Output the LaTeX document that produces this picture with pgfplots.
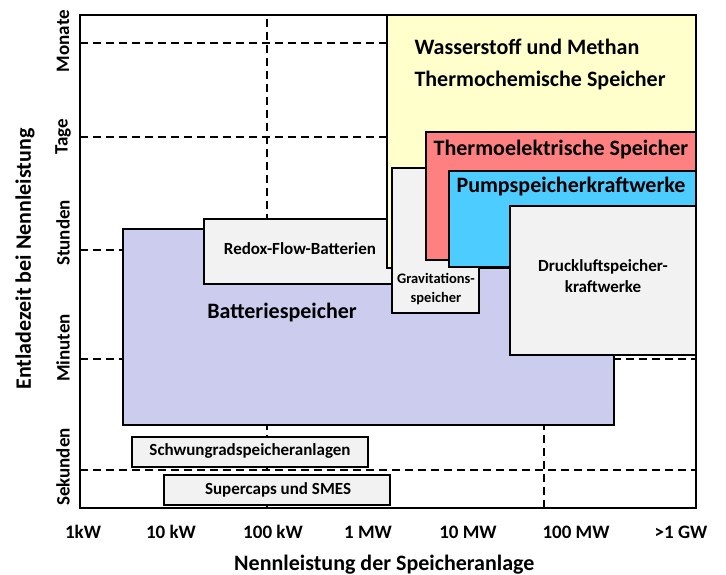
\documentclass[border=0pt]{standalone}
\usepackage{fontspec}
\setmainfont{Carlito}
\usepackage{pgfplots}
\pgfplotsset{compat=1.18}
\definecolor{cyellow}{RGB}{255,255,204}
\definecolor{cpurple}{RGB}{204,204,238}
\definecolor{cgray}{RGB}{242,242,242}
\definecolor{cred}{RGB}{255,128,128}
\definecolor{cblue}{RGB}{77,204,255}
\newcommand\fs[1]{\fontsize{#1pt}{#1pt}\selectfont\bfseries}
\begin{document}
\begin{tikzpicture}
\useasboundingbox (0,0) rectangle (726pt,575pt);
\begin{axis}[
  at={(80pt,67pt)}, anchor=south west,
  scale only axis, width=616pt, height=493pt,
  xmin=80, xmax=696, ymin=67, ymax=560,
  axis line style={line width=1.6pt, black},
  xtick={83,171,273,368,468,576,681},
  xticklabels={1kW,10 kW,100 kW,1 MW,10 MW,100 MW,>1 GW},
  ytick={108,227,342,438,534},
  yticklabels={Sekunden,Minuten,Stunden,Tage,Monate},
  major tick length=0pt,
  xticklabel style={font=\fs{19}, anchor=center, yshift=-24pt},
  yticklabel style={font=\fs{19}, rotate=90, anchor=center, yshift=17pt},
  extra x ticks={267,544}, extra x tick labels={},
  extra y ticks={105,216,325,438,532}, extra y tick labels={},
  extra tick style={grid=major, major grid style={dash pattern=on 8pt off 5pt, line width=1.2pt, black}},
  xlabel={Nennleistung der Speicheranlage},
  ylabel={Entladezeit bei Nennleistung},
  xlabel style={font=\fs{22}, at={(axis description cs:0.494,-0.1156)}, anchor=center},
  ylabel style={font=\fs{22}, at={(axis description cs:-0.0893,0.505)}, anchor=center},
]
% Batteriespeicher
\addplot[draw=black, line width=1.2pt, fill=cpurple] coordinates {(123,150) (614,150) (614,346) (123,346)} -- cycle;
% Redox-Flow
\addplot[draw=black, line width=1.2pt, fill=cgray] coordinates {(204,291) (392,291) (392,356) (204,356)} -- cycle;
% Wasserstoff
\addplot[draw=black, line width=1.2pt, fill=cyellow] coordinates {(387,307) (696,307) (696,560) (387,560)} -- cycle;
% Gravitation
\addplot[draw=black, line width=1.2pt, fill=cgray] coordinates {(392,262) (479,262) (479,407) (392,407)} -- cycle;
% Thermoelektrisch
\addplot[draw=black, line width=1.2pt, fill=cred] coordinates {(426,315) (696,315) (696,443) (426,443)} -- cycle;
% Pumpspeicher
\addplot[draw=black, line width=1.2pt, fill=cblue] coordinates {(449,308) (696,308) (696,404) (449,404)} -- cycle;
% Druckluft
\addplot[draw=black, line width=1.2pt, fill=cgray] coordinates {(510,220) (696,220) (696,369) (510,369)} -- cycle;
% Schwungrad
\addplot[draw=black, line width=1.2pt, fill=cgray] coordinates {(132,108) (368,108) (368,138) (132,138)} -- cycle;
% Supercaps
\addplot[draw=black, line width=1.2pt, fill=cgray] coordinates {(164,70) (390,70) (390,100) (164,100)} -- cycle;

\node[font=\fs{22}, anchor=west] at (axis cs:411,528) {Wasserstoff und Methan};
\node[font=\fs{22}, anchor=west] at (axis cs:411,494) {Thermochemische Speicher};
\node[font=\fs{22}] at (axis cs:561,425) {Thermoelektrische Speicher};
\node[font=\fs{22}] at (axis cs:571,388) {Pumpspeicherkraftwerke};
\node[font=\fs{17}] at (axis cs:603,308) {Druckluftspeicher-};
\node[font=\fs{17}] at (axis cs:603,288) {kraftwerke};
\node[font=\fs{14.5}] at (axis cs:436,297) {Gravitations-};
\node[font=\fs{14.5}] at (axis cs:436,276) {speicher};
\node[font=\fs{17}] at (axis cs:300,326) {Redox-Flow-Batterien};
\node[font=\fs{22}] at (axis cs:282,262) {Batteriespeicher};
\node[font=\fs{17}] at (axis cs:250,124) {Schwungradspeicheranlagen};
\node[font=\fs{17}] at (axis cs:278,85) {Supercaps und SMES};
\end{axis}
\end{tikzpicture}
\end{document}
